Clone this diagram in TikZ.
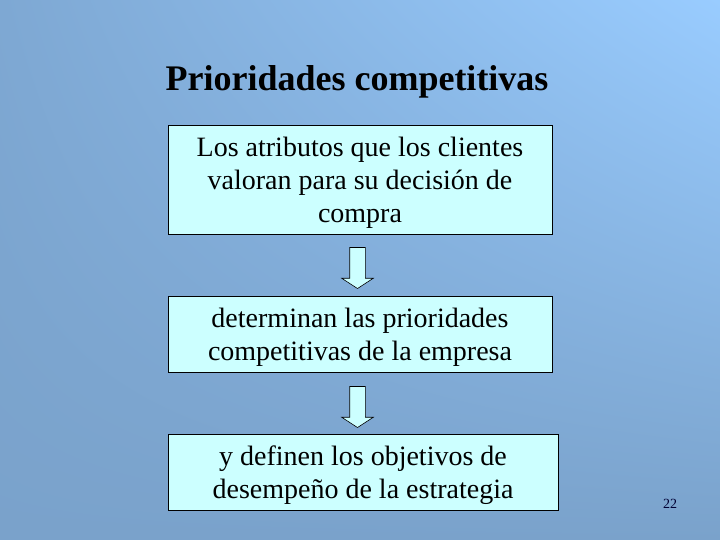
\documentclass[tikz,border=0pt]{standalone}
\usepackage{fontspec}
\setmainfont{Liberation Serif}
\usetikzlibrary{shapes.arrows,shadings}
\definecolor{bgdark}{HTML}{7AA2CB}
\definecolor{bgmid}{HTML}{7EA8D3}
\definecolor{bglight}{HTML}{99CCFF}
\definecolor{boxfill}{HTML}{CCFFFF}
\definecolor{numcol}{HTML}{000033}
\tikzset{
  infobox/.style={draw=black, fill=boxfill, line width=0.6pt, align=center, font=\fontsize{28}{33}\selectfont, inner sep=0pt, text depth=0pt},
  downarrow/.style={draw=black, fill=boxfill, line width=0.6pt, single arrow, shape border rotate=270, inner sep=7.5pt, single arrow head extend=8pt, single arrow tip angle=114, minimum height=41pt}
}
\begin{document}
\begin{tikzpicture}[x=1pt,y=-1pt]
  \shade[upper left=bgmid, upper right=bglight, lower left=bgdark, lower right=bgdark] (0,0) rectangle (720,540);
  \useasboundingbox (0,0) rectangle (720,540);
  \node[font=\fontsize{36}{40}\selectfont\bfseries] (title) at (357,82) {Prioridades competitivas};
  \node[infobox, minimum width=384pt, minimum height=109pt] (atributos) at (360,179.5) {Los atributos que los clientes\\valoran para su decisión de\\compra};
  \node[infobox, minimum width=384pt, minimum height=76pt] (prioridades) at (360,334) {determinan las prioridades\\competitivas de la empresa};
  \node[infobox, minimum width=390pt, minimum height=76pt] (objetivos) at (363,472) {y definen los objetivos de\\desempeño de la estrategia};
  \node[downarrow] (flecha1) at (357.5,265.5) {};
  \node[downarrow] (flecha2) at (357.5,404.5) {};
  \node[font=\fontsize{14}{16}\selectfont, text=numcol] (pagina) at (670,504) {22};
\end{tikzpicture}
\end{document}
